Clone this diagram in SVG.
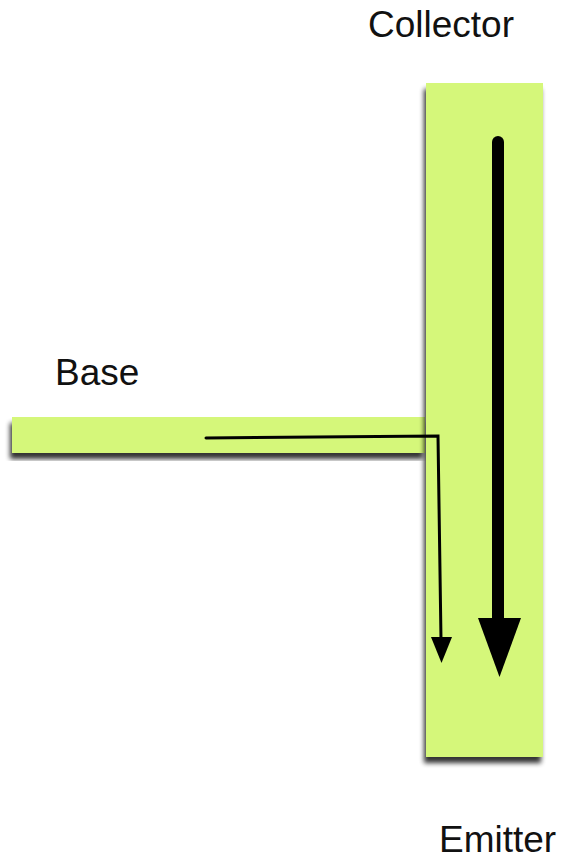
<svg xmlns="http://www.w3.org/2000/svg" width="562" height="861" viewBox="0 0 562 861">
<style>
.bar{fill:#d5f77a;filter:url(#sh)}
.lbl{font-family:"Liberation Sans",Arial,sans-serif;font-size:37px;fill:#111}
.thin{fill:none;stroke:#000;stroke-width:3;stroke-linecap:round;stroke-linejoin:miter}
.thick{fill:none;stroke:#000;stroke-width:12;stroke-linecap:round}
</style>
<defs>
<filter id="sh" x="-20%" y="-20%" width="140%" height="140%">
<feGaussianBlur in="SourceAlpha" stdDeviation="2.5"/>
<feOffset dx="-2" dy="6" result="b"/>
<feComponentTransfer><feFuncA type="linear" slope="0.8"/></feComponentTransfer>
<feMerge><feMergeNode/><feMergeNode in="SourceGraphic"/></feMerge>
</filter>
</defs>
<rect width="562" height="861" fill="#fff"/>
<g id="base-bar"><rect class="bar" x="12" y="417" width="413" height="36"/></g>
<g id="collector-emitter-bar"><rect class="bar" x="426" y="83" width="117" height="674"/></g>
<g id="label-collector"><text class="lbl" x="368" y="37">Collector</text></g>
<g id="label-base"><text class="lbl" x="55" y="385">Base</text></g>
<g id="label-emitter"><text class="lbl" x="439" y="852">Emitter</text></g>
<g id="connectors">
<path class="thin" d="M206,438 L438,436 L441,640"/>
<polygon points="431,637 452,637 441.5,663"/>
<path class="thick" d="M498,142 L498,622"/>
<polygon points="478,618 521,618 499.5,677"/>
</g>
</svg>
